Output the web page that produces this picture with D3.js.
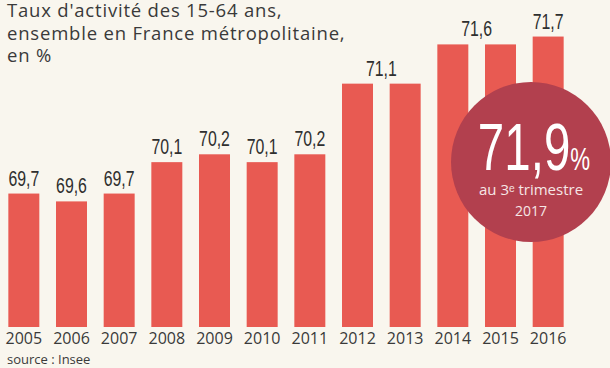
<!DOCTYPE html>
<html>
<head>
<meta charset="utf-8">
<script src="https://cdn.jsdelivr.net/npm/d3@7"></script>
<style>
  html, body { margin: 0; padding: 0; background: #f9f6ee; }
  svg { display: block; }
</style>
</head>
<body>
<div id="chart"></div>
<script>
(function (d3) {
    'use strict';

    var years = ['2005', '2006', '2007', '2008', '2009', '2010', '2011', '2012', '2013', '2014', '2015', '2016'];
    var rates = [69.7, 69.6, 69.7, 70.1, 70.2, 70.1, 70.2, 71.1, 71.1, 71.6, 71.6, 71.7];
    var titleLines = ["Taux d'activité des 15-64 ans,", "ensemble en France métropolitaine,", "en %"];
    var highlight = { value: '71,9', unit: '%', lines: ['au 3\u1d49 trimestre', '2017'] };

    var width = 610, height = 368,
        narrow = 0.72,
        textFont = '"Open Sans", sans-serif',
        numFont = '"Liberation Sans", Arial, sans-serif';
    var fmt = function (v) { return d3.format('.1f')(v).replace('.', ','); };

    var svg = d3.select('#chart').append('svg')
        .attr('width', width)
        .attr('height', height);

    svg.append('rect')
        .attr('width', width)
        .attr('height', height)
        .attr('fill', '#f9f6ee');

    var x = d3.scaleBand()
        .domain(years)
        .range([0, 572])
        .paddingInner(0.35)
        .paddingOuter(0.175);

    var y = d3.scaleLinear()
        .domain([68, 72])
        .range([327, 13]);

    // title
    svg.append('text')
        .attr('font-family', textFont)
        .attr('font-size', 18.5)
        .attr('letter-spacing', 0.8)
        .attr('fill', '#3a3a3a')
        .selectAll('tspan')
        .data(titleLines)
        .enter().append('tspan')
        .attr('x', 7)
        .attr('y', function (d, i) { return 17 + i * 22.5; })
        .text(function (d) { return d; });

    // bars
    svg.append('g').selectAll('rect')
        .data(rates)
        .enter().append('rect')
        .attr('x', function (d, i) { return x(years[i]); })
        .attr('y', function (d) { return y(d); })
        .attr('width', x.bandwidth())
        .attr('height', function (d) { return y.range()[0] - y(d); })
        .attr('fill', '#e85a52');

    // value labels: consecutive equal years share one label
    var labels = [];
    rates.forEach(function (v, i) {
        var last = labels[labels.length - 1];
        if (last && last.v === v && last.to === i - 1) {
            last.to = i;
        } else {
            labels.push({ v: v, from: i, to: i });
        }
    });

    svg.append('g').selectAll('text')
        .data(labels)
        .enter().append('text')
        .attr('transform', function (d) {
            var cx = (x(years[d.from]) + x(years[d.to]) + x.bandwidth()) / 2;
            return 'translate(' + cx + ',' + (y(d.v) - 8) + ') scale(' + narrow + ',1)';
        })
        .attr('text-anchor', 'middle')
        .attr('font-family', numFont)
        .attr('font-size', 22)
        .attr('fill', '#2f2f2f')
        .text(function (d) { return fmt(d.v); });

    // year axis
    var axis = svg.append('g')
        .attr('transform', 'translate(0,' + y.range()[0] + ')')
        .call(d3.axisBottom(x).tickSize(0).tickPadding(6));
    axis.select('.domain').remove();
    axis.selectAll('text')
        .attr('font-family', textFont)
        .attr('font-size', 16)
        .attr('fill', '#3a3a3a');

    // source
    svg.append('text')
        .attr('x', 7)
        .attr('y', 364)
        .attr('font-family', textFont)
        .attr('font-size', 13)
        .attr('fill', '#3a3a3a')
        .text('source : Insee');

    // highlight bubble
    var bubble = svg.append('g').attr('transform', 'translate(531,162)');
    bubble.append('circle')
        .attr('r', 80)
        .attr('fill', '#b2404e');

    var big = bubble.append('text')
        .attr('transform', 'translate(3,8) scale(' + narrow + ',1)')
        .attr('text-anchor', 'middle')
        .attr('fill', '#ffffff')
        .attr('font-family', numFont);
    big.append('tspan')
        .attr('font-size', 66)
        .text(highlight.value);
    big.append('tspan')
        .attr('font-size', 31)
        .text(highlight.unit);

    bubble.selectAll('text.sub')
        .data(highlight.lines)
        .enter().append('text')
        .attr('class', 'sub')
        .attr('y', function (d, i) { return 33 + i * 21; })
        .attr('text-anchor', 'middle')
        .attr('fill', '#f6e6e6')
        .attr('font-family', textFont)
        .attr('font-size', function (d, i) { return i ? 14 : 15; })
        .text(function (d) { return d; });
})(d3);
</script>
</body>
</html>
